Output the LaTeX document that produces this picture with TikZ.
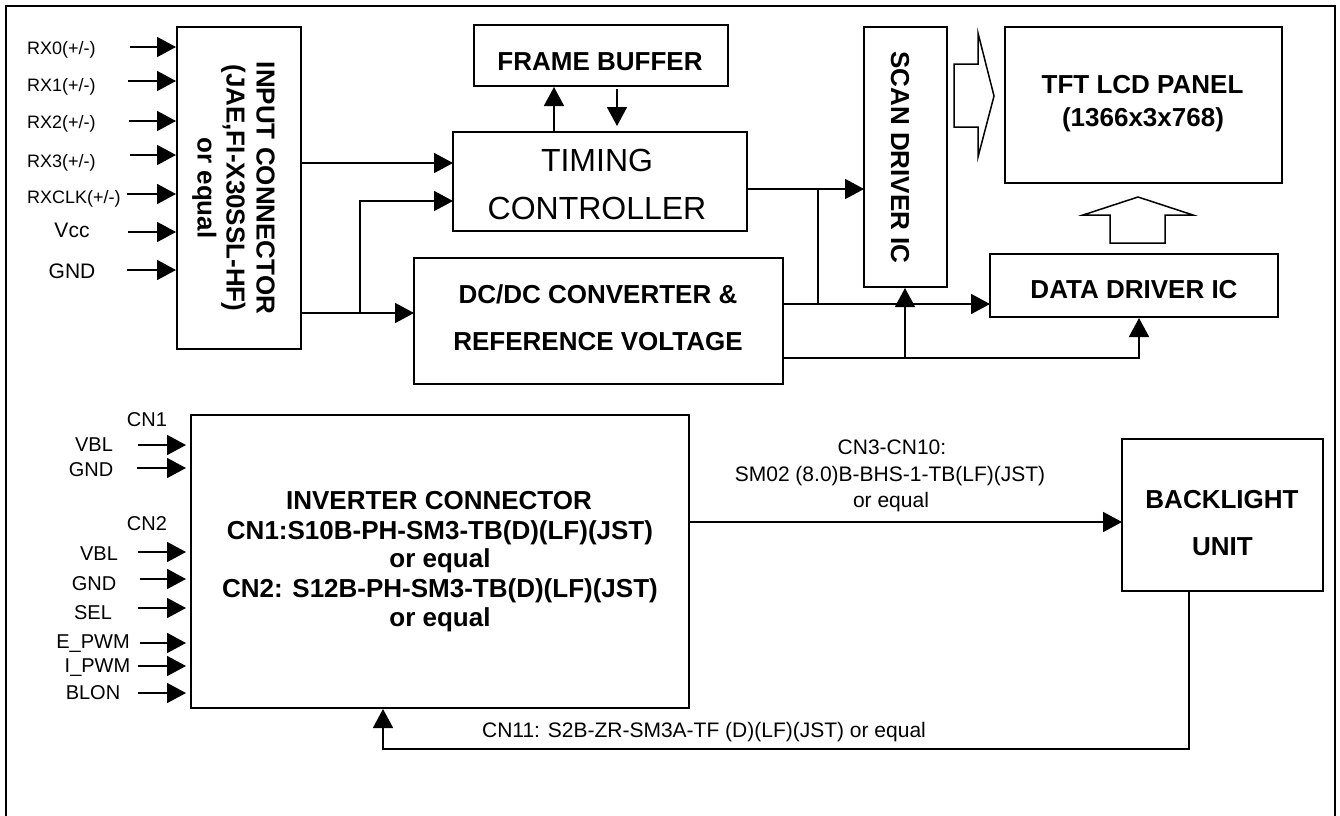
\documentclass[tikz,border=0pt]{standalone}
\usepackage{fontspec}
\setmainfont{Liberation Sans}
\usetikzlibrary{arrows.meta}

\begin{document}
\begin{tikzpicture}[x=1pt, y=-1pt,
	box/.style={ draw, line width=2pt, inner sep=0pt },
	sig/.style={ line width=1.8pt, -{Triangle[length=19pt, width=20pt]} },
	wire/.style={ line width=1.8pt },
	hollow/.style={ line width=1.5pt, line join=miter },
	hd/.style={ font=\bfseries\fontsize{26}{30}\selectfont, inner sep=0pt, text height=18.6pt, text depth=0pt },
	tm/.style={ font=\fontsize{32}{38}\selectfont, inner sep=0pt, text height=22.9pt, text depth=0pt },
	rx/.style={ font=\fontsize{18}{21}\selectfont, inner sep=0pt, text height=12.9pt, text depth=0pt },
	pin/.style={ font=\fontsize{20}{24}\selectfont, inner sep=0pt, text height=14.3pt, text depth=0pt },
	cn/.style={ font=\fontsize{21}{25}\selectfont, inner sep=0pt, text height=15pt, text depth=0pt }]
	  \useasboundingbox (0,0) rectangle (1340,815);
	  \draw [ line width=2pt ] (6,830)--(6,6)--(1335,6)--(1335,830);

	  % blocks
	  \node [ box, minimum width=124pt, minimum height=322pt ] (inconn) at (239,188) {};
	  \node [ box, minimum width=254pt, minimum height=61pt ] (fbuf) at (601,55.5) {};
	  \node [ box, minimum width=294pt, minimum height=99pt ] (tcon) at (600,181.5) {};
	  \node [ box, minimum width=369pt, minimum height=126pt ] (dcdc) at (598.5,321) {};
	  \node [ box, minimum width=83pt, minimum height=260pt ] (scan) at (905.5,157) {};
	  \node [ box, minimum width=277pt, minimum height=156pt ] (panel) at (1143.5,105) {};
	  \node [ box, minimum width=288pt, minimum height=63pt ] (ddrv) at (1134,285.5) {};
	  \node [ box, minimum width=498pt, minimum height=293pt ] (inv) at (440,561.5) {};
	  \node [ box, minimum width=201pt, minimum height=152pt ] (blu) at (1222.5,515) {};

	  \node [ hd, rotate=-90 ] (inconnA) at (266,188) {INPUT CONNECTOR};
	  \node [ hd, rotate=-90 ] (inconnB) at (236,188) {(JAE,FI-X30SSL-HF)};
	  \node [ hd, rotate=-90 ] (inconnC) at (207,188) {or equal};
	  \node [ hd ] (fbufT) at (600,61) {FRAME BUFFER};
	  \node [ tm ] (tconA) at (597,160.5) {TIMING};
	  \node [ tm ] (tconB) at (597,208) {CONTROLLER};
	  \node [ hd ] (dcdcA) at (598,294) {DC/DC CONVERTER \&};
	  \node [ hd ] (dcdcB) at (598,341.5) {REFERENCE VOLTAGE};
	  \node [ hd, rotate=-90 ] (scanT) at (900.5,157.5) {SCAN DRIVER IC};
	  \node [ hd ] (panelA) at (1142.5,84) {TFT LCD PANEL};
	  \node [ hd ] (panelB) at (1143,117.5) {(1366x3x768)};
	  \node [ hd ] (ddrvT) at (1134,289) {DATA DRIVER IC};
	  \node [ hd ] (invA) at (439,500.5) {INVERTER CONNECTOR};
	  \node [ hd ] (invB) at (440,530) {CN1:S10B-PH-SM3-TB(D)(LF)(JST)};
	  \node [ hd ] (invC) at (440,558.5) {or equal};
	  \node [ hd ] (invD) at (440,588) {CN2: S12B-PH-SM3-TB(D)(LF)(JST)};
	  \node [ hd ] (invE) at (440,617) {or equal};
	  \node [ hd ] (bluA) at (1222,499) {BACKLIGHT};
	  \node [ hd ] (bluB) at (1222.5,546) {UNIT};

	  % input pins
	  \node [ rx, anchor=west ] (rx0) at (27,48) {RX0(+/-)};
	  \node [ rx, anchor=west ] (rx1) at (27,85.5) {RX1(+/-)};
	  \node [ rx, anchor=west ] (rx2) at (27,122.5) {RX2(+/-)};
	  \node [ rx, anchor=west ] (rx3) at (27,161) {RX3(+/-)};
	  \node [ rx, anchor=west ] (rxclk) at (27,197.5) {RXCLK(+/-)};
	  \node [ cn ] (vcc) at (72,229.5) {Vcc};
	  \node [ cn ] (gnd) at (72,271) {GND};
	  \coordinate (a0) at (130,47);
	  \coordinate (a1) at (128,81);
	  \coordinate (a2) at (129,121);
	  \coordinate (a3) at (130,155);
	  \coordinate (a4) at (127,194);
	  \coordinate (a5) at (128,232);
	  \coordinate (a6) at (127,270);
	  \draw [ sig ] (a0)--(a0 -| inconn.west);
	  \draw [ sig ] (a1)--(a1 -| inconn.west);
	  \draw [ sig ] (a2)--(a2 -| inconn.west);
	  \draw [ sig ] (a3)--(a3 -| inconn.west);
	  \draw [ sig ] (a4)--(a4 -| inconn.west);
	  \draw [ sig ] (a5)--(a5 -| inconn.west);
	  \draw [ sig ] (a6)--(a6 -| inconn.west);

	  % inverter pins
	  \node [ pin ] (cn1) at (147,419.5) {CN1};
	  \node [ pin ] (vbl1) at (94,444) {VBL};
	  \node [ pin ] (gnd1) at (91,469) {GND};
	  \node [ pin ] (cn2) at (147,523) {CN2};
	  \node [ pin ] (vbl2) at (99,553.5) {VBL};
	  \node [ pin ] (gnd2) at (94,583) {GND};
	  \node [ pin ] (sel) at (93,612) {SEL};
	  \node [ pin ] (epwm) at (93,641) {E\_PWM};
	  \node [ pin ] (ipwm) at (97.5,665) {I\_PWM};
	  \node [ pin ] (blon) at (93,692) {BLON};
	  \coordinate (b1) at (138,445);
	  \coordinate (b2) at (137,468);
	  \coordinate (b3) at (138,552);
	  \coordinate (b4) at (140,579);
	  \coordinate (b5) at (138,608);
	  \coordinate (b6) at (140,643);
	  \coordinate (b7) at (138,666);
	  \coordinate (b8) at (138,693);
	  \draw [ sig, shorten >=4pt ] (b1)--(b1 -| inv.west);
	  \draw [ sig, shorten >=4pt ] (b2)--(b2 -| inv.west);
	  \draw [ sig, shorten >=4pt ] (b3)--(b3 -| inv.west);
	  \draw [ sig, shorten >=4pt ] (b4)--(b4 -| inv.west);
	  \draw [ sig, shorten >=4pt ] (b5)--(b5 -| inv.west);
	  \draw [ sig, shorten >=4pt ] (b6)--(b6 -| inv.west);
	  \draw [ sig, shorten >=4pt ] (b7)--(b7 -| inv.west);
	  \draw [ sig, shorten >=4pt ] (b8)--(b8 -| inv.west);

	  % signal paths
	  \coordinate (tcin1) at (453,163);
	  \coordinate (tcin2) at (453,201);
	  \coordinate (dcin) at (414,313);
	  \coordinate (j1) at (360,313);
	  \draw [ sig ] (inconn.east |- tcin1)--(tcin1);
	  \draw [ sig ] (inconn.east |- dcin)--(dcin);
	  \draw [ sig ] (j1) |- (tcin2);

	  \coordinate (fbup) at (554,110);
	  \coordinate (fbdn) at (617,110);
	  \draw [ sig ] (tcon.north -| fbup)--(fbuf.south -| fbup);
	  \draw [ sig, shorten >=5pt, shorten <=2pt ] (fbuf.south -| fbdn)--(tcon.north -| fbdn);

	  \coordinate (scin) at (864,189);
	  \coordinate (j2) at (818,189);
	  \coordinate (j3) at (818,304);
	  \coordinate (ddin) at (990,304);
	  \draw [ sig ] (tcon.east |- scin)--(scin);
	  \draw [ wire ] (j2)--(j3);
	  \draw [ sig ] (dcdc.east |- ddin)--(ddin);

	  \coordinate (j4) at (905,358);
	  \coordinate (j5) at (1139,358);
	  \draw [ sig ] (dcdc.east |- j5) -| (ddrv.south -| j5);
	  \draw [ sig ] (j4)--(scan.south -| j4);

	  % hollow arrows to the panel
	  \draw [ hollow ] (954,64)--(978,64)--(978,33)--(994,96)--(978,157)--(978,127)--(954,127)--cycle;
	  \draw [ hollow ] (1110,243)--(1110,215)--(1083,215)--(1138,197)--(1193,215)--(1165,215)--(1165,243)--cycle;

	  % backlight
	  \coordinate (blin) at (1122,522);
	  \draw [ sig ] (inv.east |- blin)--(blin);
	  \node [ cn ] (cn310A) at (892,446.7) {CN3-CN10:};
	  \node [ cn ] (cn310B) at (890,474) {SM02 (8.0)B-BHS-1-TB(LF)(JST)};
	  \node [ cn ] (cn310C) at (891,500) {or equal};

	  \coordinate (fb1) at (1189,749);
	  \coordinate (fb2) at (383,749);
	  \draw [ sig ] (blu.south -| fb1)--(fb1)--(fb2)--(inv.south -| fb2);
	  \node [ cn ] (cn11) at (704,729.5) {CN11: S2B-ZR-SM3A-TF (D)(LF)(JST) or equal};
	\end{tikzpicture}
\end{document}
